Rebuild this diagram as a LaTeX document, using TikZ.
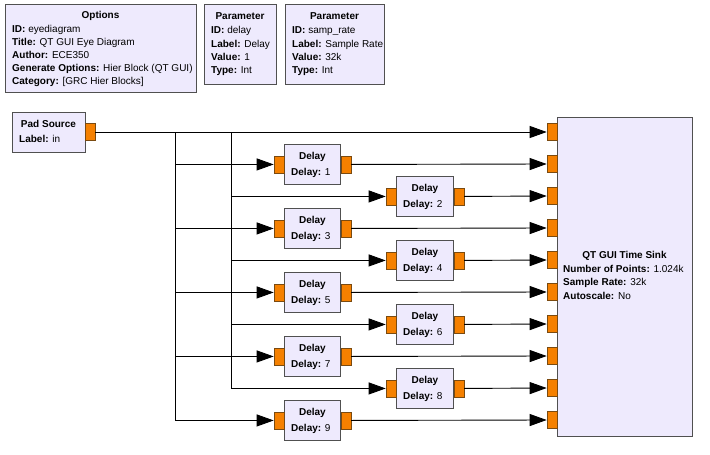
\documentclass[tikz,border=0pt]{standalone}
\usepackage{fontspec}
\setmainfont{Liberation Sans}
\usetikzlibrary{arrows.meta}
\definecolor{blockfill}{HTML}{EEEAFD}
\definecolor{blockline}{HTML}{505050}
\definecolor{portfill}{HTML}{F58000}
\definecolor{portline}{HTML}{7A4A10}
\tikzset{
  blk/.style={draw=blockline, fill=blockfill, line width=0.9pt, inner sep=0, anchor=north west},
  port/.style={draw=portline, fill=portfill, line width=0.6pt, minimum width=10, minimum height=17, inner sep=0},
  txt/.style={font=\fontsize{10}{12}\selectfont, inner sep=0, anchor=base west},
  ttl/.style={font=\fontsize{10}{12}\selectfont\bfseries, inner sep=0, anchor=base},
  wire/.style={draw=black, line width=0.9pt},
  arr/.style={wire, -{Triangle[length=17pt,width=12pt]}}
}
\begin{document}
\begin{tikzpicture}[x=1pt,y=-1pt]
\fill[white] (0,0) rectangle (710,455);
\useasboundingbox (0,0) rectangle (710,455);

% Options block
\node[blk, minimum width=191, minimum height=88] (opt) at (5,4) {};
\node[ttl] (optT) at (100.5,18.5) {Options};
\node[txt] (opt1) at (12,32) {\textbf{ID:} eyediagram};
\node[txt] (opt2) at (12,45.5) {\textbf{Title:} QT GUI Eye Diagram};
\node[txt] (opt3) at (12,58.5) {\textbf{Author:} ECE350};
\node[txt] (opt4) at (12,71.5) {\textbf{Generate Options:} Hier Block (QT GUI)};
\node[txt] (opt5) at (12,84.5) {\textbf{Category:} [GRC Hier Blocks]};

% Parameter delay
\node[blk, minimum width=72, minimum height=80] (par1) at (204,4) {};
\node[ttl] (par1T) at (240,19.5) {Parameter};
\node[txt] (par11) at (211,34) {\textbf{ID:} delay};
\node[txt] (par12) at (211,47) {\textbf{Label:} Delay};
\node[txt] (par13) at (211,60.5) {\textbf{Value:} 1};
\node[txt] (par14) at (211,73.5) {\textbf{Type:} Int};

% Parameter samp_rate
\node[blk, minimum width=99, minimum height=80] (par2) at (285,4) {};
\node[ttl] (par2T) at (334.5,19.5) {Parameter};
\node[txt] (par21) at (292,34) {\textbf{ID:} samp\_rate};
\node[txt] (par22) at (292,47) {\textbf{Label:} Sample Rate};
\node[txt] (par23) at (292,60.5) {\textbf{Value:} 32k};
\node[txt] (par24) at (292,73.5) {\textbf{Type:} Int};

% Pad Source
\node[blk, minimum width=73, minimum height=40] (pad) at (12,112) {};
\node[ttl] (padT) at (48.5,127.5) {Pad Source};
\node[txt] (padL) at (19,142) {\textbf{Label:} in};
\node[port] (padout) at (90,132) {};

% QT GUI Time Sink
\node[blk, minimum width=135, minimum height=319] (sink) at (557,117) {};
\node[ttl] (sinkT) at (624.5,258.5) {QT GUI Time Sink};
\node[txt] (sink1) at (563,272.5) {\textbf{Number of Points:} 1.024k};
\node[txt] (sink2) at (563,285.5) {\textbf{Sample Rate:} 32k};
\node[txt] (sink3) at (563,299.5) {\textbf{Autoscale:} No};
\foreach \k in {0,...,9}{
  \node[port] (s\k) at (552,132+32*\k) {};
}

% branch points
\coordinate (b1) at (175,132);
\coordinate (b0) at (231,132);

% Delay blocks
\foreach \i in {1,...,9}{
  \pgfmathsetmacro{\yy}{132+32*\i}
  \ifodd\i
    \def\lx{284}\def\bw{56}\def\br{1}
  \else
    \def\lx{396}\def\bw{57}\def\br{0}
  \fi
  \node[blk, minimum width=\bw, minimum height=40] (d\i) at (\lx,\yy-20) {};
  \node[port] (din\i) at ([xshift=-5pt]d\i.west) {};
  \node[port] (dout\i) at ([xshift=5pt]d\i.east) {};
  \node[ttl] (dT\i) at ([yshift=4.5pt]d\i.center) {Delay};
  \node[txt] (dP\i) at (\lx+7,\yy+11.5) {\textbf{Delay:} \i};
  \draw[arr] (padout.east) -- (b\br) |- (din\i.west);
  \draw[arr] (dout\i.east) -- (s\i.west);
}
\draw[arr] (padout.east) -- (s0.west);
\end{tikzpicture}
\end{document}
